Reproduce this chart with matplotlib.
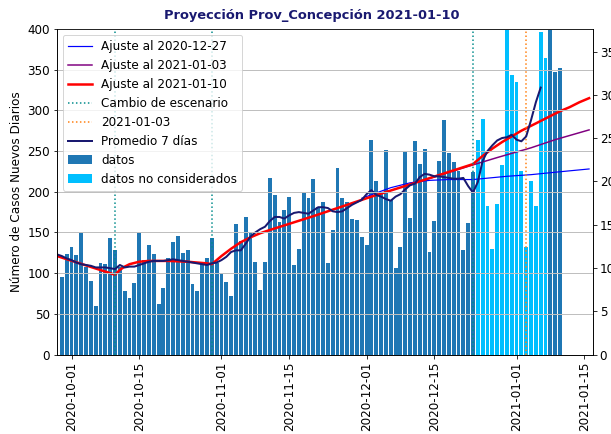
import pandas as pd
import matplotlib
matplotlib.use('Agg')
import matplotlib.pyplot as plt
import matplotlib.dates as mdates

# casos diarios desde 2020-09-29
inicio_casos = '2020-09-29'
casos = [95, 123, 132, 122, 149, 107, 90, 60, 112, 111,
         143, 128, 108, 78, 70, 88, 150, 116, 134, 124,
         62, 82, 118, 138, 146, 125, 128, 87, 78, 112,
         119, 143, 112, 100, 89, 72, 160, 139, 169, 151,
         114, 79, 114, 217, 196, 163, 178, 194, 110, 130,
         198, 192, 216, 181, 188, 112, 153, 229, 192, 188,
         167, 165, 145, 134, 263, 213, 200, 251, 190, 106,
         132, 249, 168, 262, 234, 253, 126, 164, 238, 288,
         248, 236, 225, 128, 162, 224, 264, 290, 182, 130,
         185, 233, 420, 343, 335, 225, 132, 213, 182, 396,
         364, 430, 347, 352]
no_considerados = ('2020-12-24', '2021-01-07')

# promedio movil 7 dias desde 2020-09-28
inicio_prom = '2020-09-28'
promedio_7d = [123, 121, 118,
               116, 113, 111, 110, 109, 107, 107, 107, 106, 105,
               110, 107, 108, 108, 110, 112, 114, 115, 115, 115,
               116, 117, 116, 115, 114, 113, 112, 111, 110, 112,
               113, 116, 120, 126, 128, 128, 136, 145, 150, 154,
               157, 164, 169, 169, 167, 171, 174, 175, 174, 173,
               177, 181, 181, 180, 176, 175, 176, 180, 184, 187,
               190, 197, 202, 196, 194, 191, 189, 194, 197, 203,
               208, 210, 218, 222, 221, 219, 219, 218, 217, 216,
               216, 217, 207, 199, 212, 238, 250, 257, 263, 266,
               267, 270, 264, 262, 268, 288, 310, 328]

# ajustes (dias desde 2020-10-01)
base = pd.Timestamp('2020-10-01')
dias_1227 = [60, 66, 70, 74, 78, 83, 90, 95, 100, 107]
ajuste_1227 = [192, 205, 211, 214, 215, 215, 219, 221, 224, 228]
dias_0103 = [70, 83, 88, 95, 100, 107]
ajuste_0103 = [209, 233, 242, 254, 264, 276]
dias_0110 = [-3, 9, 10, 11, 12, 14, 16, 20, 24, 28, 29,
             31, 33, 35, 37, 39, 41, 50, 62, 70, 83,
             85, 87, 89, 91, 93, 95, 97, 99, 101, 103, 105, 107]
ajuste_0110 = [121, 98, 104, 108, 111, 114, 115, 115, 114, 112, 111,
               121, 130, 138, 144, 149, 153, 170, 194, 209, 234,
               244, 253, 261, 268, 275, 281, 287, 293, 299, 304, 310, 315]

cambios = ['2020-10-10', '2020-10-30', '2020-12-23']
fecha_proy = '2021-01-03'
ticks_x = ['2020-10-01', '2020-10-15', '2020-11-01', '2020-11-15',
           '2020-12-01', '2020-12-15', '2021-01-01', '2021-01-15']

fechas = pd.date_range(inicio_casos, periods=len(casos))
s = pd.Series(casos, index=fechas)
nc = (s.index >= no_considerados[0]) & (s.index <= no_considerados[1])
fechas_prom = pd.date_range(inicio_prom, periods=len(promedio_7d))

def a_fechas(dias):
    return [base + pd.Timedelta(days=d) for d in dias]

fig = plt.figure(figsize=(611 / 72, 434 / 72), dpi=72)
ax = fig.add_axes([57 / 611, 1 - 354.5 / 434, 535.7 / 611, 325.5 / 434])

ax.plot(a_fechas(dias_1227), ajuste_1227, color='blue', lw=1.2, label='Ajuste al 2020-12-27')
ax.plot(a_fechas(dias_0103), ajuste_0103, color='purple', lw=1.5, label='Ajuste al 2021-01-03')
ax.plot(a_fechas(dias_0110), ajuste_0110, color='red', lw=2.5, label='Ajuste al 2021-01-10')
for i, c in enumerate(cambios):
    ax.axvline(pd.Timestamp(c), color='darkcyan', ls=':', lw=1.5,
               label='Cambio de escenario' if i == 0 else None)
ax.axvline(pd.Timestamp(fecha_proy), color='tab:orange', ls=':', lw=1.5, label=fecha_proy)
ax.plot(fechas_prom, promedio_7d, color='midnightblue', lw=2, label='Promedio 7 días')

ax.bar(s.index[~nc], s.values[~nc], width=0.8, color='tab:blue', label='datos')
ax.bar(s.index[nc], s.values[nc], width=0.8, color='deepskyblue', label='datos no considerados')

ax.set_ylim(0, 400)
ax.set_xlim(pd.Timestamp('2020-09-28'), pd.Timestamp('2021-01-16 18:00'))
ax.set_xticks([pd.Timestamp(t) for t in ticks_x])
ax.xaxis.set_major_formatter(mdates.DateFormatter('%Y-%m-%d'))
ax.tick_params(axis='x', labelrotation=90, labelsize=12)
ax.tick_params(axis='y', labelsize=12)
ax.set_axisbelow(False)
ax.grid(True, axis='y', color='0.75', lw=1)
ax.set_ylabel('Número de Casos Nuevos Diarios', fontsize=12)
fig.text(312 / 611, 1 - 16 / 434, 'Proyección Prov_Concepción 2021-01-10',
         ha='center', va='center', fontsize=13, fontweight='bold',
         color='midnightblue')
ax.legend(loc='upper left', fontsize=12)

ax2 = ax.twinx()
ax2.set_ylim(0, 37.6)
ax2.set_yticks(range(0, 40, 5))
ax2.tick_params(axis='y', labelsize=12)

fig.savefig('out.png', dpi=72)
